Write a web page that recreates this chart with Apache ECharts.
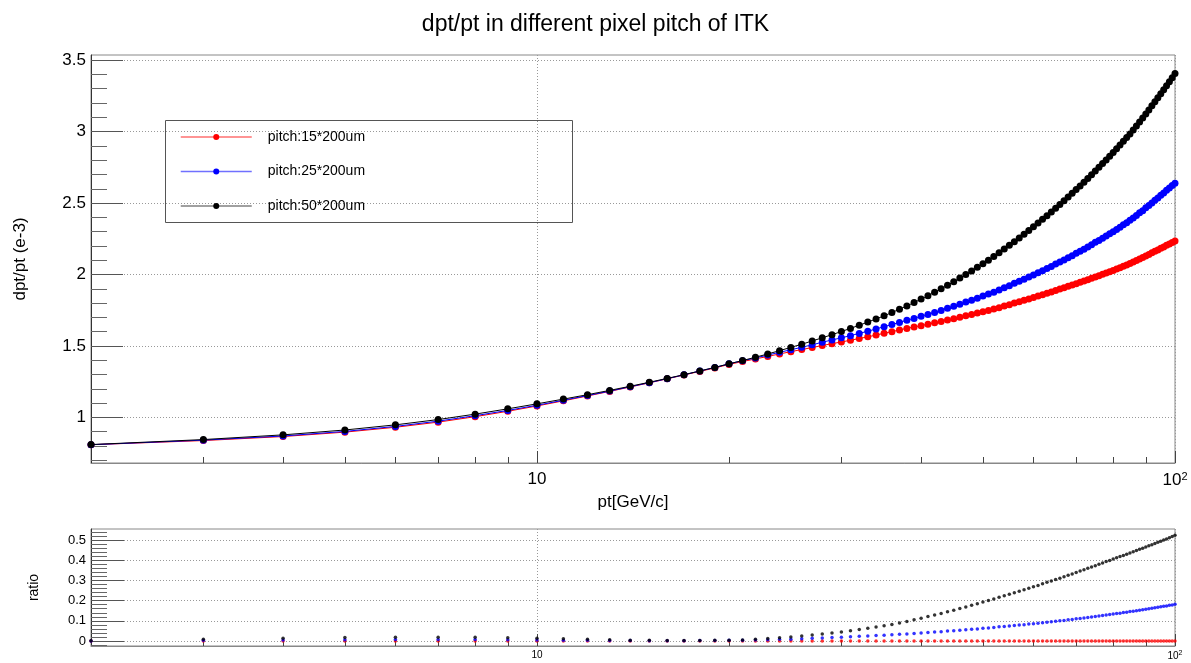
<!DOCTYPE html>
<html>
<head>
<meta charset="utf-8">
<script src="https://cdn.jsdelivr.net/npm/echarts@6/dist/echarts.min.js"></script>
<style>
html,body{margin:0;padding:0;background:#fff;}
#chart{width:1191px;height:663px;}
</style>
</head>
<body>
<div id="chart"></div>
<script>
// ---------- data ----------
const pt = [2,3,4,5,6,7,8,9,10,11,12,13,14,15,16,17,18,19,20,21,22,23,24,25,26,27,28,29,30,
  31,32,33,34,35,36,37,38,39,40,41,42,43,44,45,46,47,48,49,50,51,52,53,54,55,56,57,58,59,60,
  61,62,63,64,65,66,67,68,69,70,71,72,73,74,75,76,77,78,79,80,81,82,83,84,85,86,87,88,89,90,
  91,92,93,94,95,96,97,98,99,100];

const res15 = [0.809,0.838,0.866,0.897,0.931,0.967,1.005,1.043,1.080,1.116,1.150,1.182,1.213,1.242,1.270,1.297,1.322,1.346,1.371,
  1.391,1.409,1.427,1.444,1.460,1.475,1.489,1.503,1.516,1.528,
  1.540,1.552,1.564,1.576,1.589,1.600,1.612,1.623,1.633,1.642,1.652,1.662,1.671,1.681,1.691,1.701,1.711,1.720,1.730,1.739,
  1.749,1.758,1.768,1.779,1.789,1.800,1.809,1.820,1.829,1.839,
  1.850,1.858,1.868,1.878,1.888,1.898,1.907,1.917,1.926,1.936,1.945,1.954,1.963,1.974,1.983,1.991,2.001,2.010,2.020,2.028,
  2.038,2.048,2.058,2.067,2.077,2.087,2.098,2.109,2.119,2.130,
  2.140,2.152,2.162,2.172,2.183,2.193,2.205,2.214,2.224,2.234];

const res25 = [0.809,0.841,0.870,0.902,0.937,0.974,1.012,1.049,1.085,1.120,1.153,1.184,1.215,1.243,1.271,1.298,1.325,1.349,1.375,
  1.397,1.416,1.436,1.456,1.473,1.491,1.508,1.526,1.542,1.557,
  1.572,1.588,1.603,1.619,1.635,1.650,1.665,1.680,1.693,1.708,1.721,1.735,1.748,1.763,1.777,1.791,1.807,1.820,1.834,1.849,
  1.863,1.876,1.892,1.907,1.921,1.939,1.952,1.967,1.983,1.997,
  2.013,2.027,2.042,2.056,2.073,2.088,2.102,2.118,2.132,2.149,2.163,2.177,2.193,2.209,2.225,2.238,2.253,2.269,2.285,2.300,
  2.315,2.331,2.348,2.363,2.380,2.396,2.413,2.432,2.447,2.467,
  2.482,2.501,2.519,2.535,2.554,2.570,2.589,2.606,2.622,2.639];

const res50 = [0.810,0.845,0.878,0.912,0.948,0.985,1.023,1.060,1.095,1.128,1.159,1.189,1.218,1.246,1.273,1.299,1.325,1.350,1.375,
  1.398,1.421,1.444,1.467,1.490,1.512,1.535,1.557,1.579,1.601,
  1.623,1.645,1.667,1.689,1.711,1.734,1.757,1.780,1.804,1.828,1.852,1.876,1.900,1.925,1.950,1.975,2.000,2.025,2.050,2.075,
  2.100,2.126,2.152,2.178,2.204,2.230,2.256,2.282,2.308,2.334,
  2.360,2.386,2.412,2.438,2.464,2.490,2.516,2.542,2.568,2.594,2.620,2.646,2.672,2.698,2.724,2.750,2.776,2.802,2.828,2.854,
  2.880,2.906,2.932,2.958,2.984,3.012,3.040,3.068,3.096,3.124,
  3.152,3.180,3.208,3.236,3.264,3.292,3.320,3.348,3.376,3.406];

const ratio15 = [0,0,0,0,0,0,0,0,0,0,0,0,0,0,0,0,0,0,0,0,0,0,0,0,0,0,0,0,0,
  0,0,0,0,0,0,0,0,0,0,0,0,0,0,0,0,0,0,0,0,0,0,0,0,0,0,0,0,0,0,
  0,0,0,0,0,0,0,0,0,0,0,0,0,0,0,0,0,0,0,0,0,0,0,0,0,0,0,0,0,0,
  0,0,0,0,0,0,0,0,0,0];

const ratio25 = [0.000,0.004,0.005,0.006,0.007,0.007,0.007,0.006,0.005,0.004,0.003,0.002,0.002,0.001,0.001,0.001,0.002,0.002,0.003,
  0.004,0.005,0.006,0.008,0.009,0.011,0.013,0.015,0.017,0.019,
  0.021,0.023,0.025,0.027,0.029,0.031,0.033,0.035,0.037,0.040,0.042,0.044,0.046,0.049,0.051,0.053,0.056,0.058,0.060,0.063,
  0.065,0.067,0.070,0.072,0.074,0.077,0.079,0.081,0.084,0.086,
  0.088,0.091,0.093,0.095,0.098,0.100,0.102,0.105,0.107,0.110,0.112,0.114,0.117,0.119,0.122,0.124,0.126,0.129,0.131,0.134,
  0.136,0.138,0.141,0.143,0.146,0.148,0.150,0.153,0.155,0.158,
  0.160,0.162,0.165,0.167,0.170,0.172,0.174,0.177,0.179,0.182];

const ratio50 = [0.001,0.008,0.014,0.017,0.018,0.019,0.018,0.016,0.014,0.011,0.008,0.006,0.004,0.003,0.002,0.002,0.002,0.003,0.003,
  0.005,0.008,0.012,0.016,0.020,0.025,0.030,0.035,0.040,0.045,
  0.051,0.057,0.063,0.069,0.075,0.082,0.089,0.097,0.105,0.113,0.121,0.129,0.137,0.145,0.153,0.161,0.169,0.177,0.185,0.193,
  0.201,0.209,0.217,0.224,0.232,0.239,0.247,0.254,0.262,0.269,
  0.276,0.284,0.291,0.298,0.305,0.312,0.319,0.326,0.333,0.340,0.347,0.354,0.361,0.367,0.374,0.381,0.387,0.394,0.400,0.407,
  0.413,0.419,0.425,0.431,0.437,0.443,0.449,0.455,0.461,0.467,
  0.473,0.478,0.484,0.490,0.495,0.501,0.506,0.512,0.519,0.525];

const seriesNames = ['pitch:15*200um','pitch:25*200um','pitch:50*200um'];
const seriesColors = ['#ff0000','#0000ff','#000000'];
const legendLineColors = ['#ff7070','#7070ff','#808080'];

// ticks
const xMajorTicks = [10,100];
const xMinorTicks = [3,4,5,6,7,8,9,20,30,40,50,60,70,80,90];
const yMajorTicks = [1,1.5,2,2.5,3,3.5];
const yMinorTicks = [0.7,0.8,0.9,1.1,1.2,1.3,1.4,1.6,1.7,1.8,1.9,2.1,2.2,2.3,2.4,2.6,2.7,2.8,2.9,3.1,3.2,3.3,3.4];
const rMajorTicks = [0,0.1,0.2,0.3,0.4,0.5];
const rMinorTicks = [-0.02,0.02,0.04,0.06,0.08,0.12,0.14,0.16,0.18,0.22,0.24,0.26,0.28,0.32,0.34,0.36,0.38,0.42,0.44,0.46,0.48,0.52,0.54];

// ---------- chart ----------
const FONT = 'Liberation Sans, Arial, Helvetica, sans-serif';
const chart = echarts.init(document.getElementById('chart'), null, {renderer:'canvas'});

function pairs(ys){ return pt.map((x,i)=>[x, ys[i]]); }
const topData = [res15,res25,res50];
const ratioData = [ratio15,ratio25,ratio50];

function xLabelFmt(v){
  if (Math.abs(v-10)<1e-6) return '10';
  if (Math.abs(v-100)<1e-6) return '{b|10}{s|2}';
  return '';
}

function xAxes(grid, fontSize, withName){
  const lab = {
    customValues: xMajorTicks, formatter: xLabelFmt, color:'#000', fontFamily:FONT, fontSize:fontSize,
    margin: fontSize>12?8:4,
    rich:{ b:{fontSize:fontSize, fontFamily:FONT, color:'#000'}, s:{fontSize:Math.round(fontSize*0.65), fontFamily:FONT, color:'#000', verticalAlign:'top', padding:[0,0,fontSize*0.5,0]} }
  };
  const major = {
    type:'log', logBase:10, gridIndex:grid, min:2, max:100, position:'bottom',
    axisLine:{show:true, onZero:false, lineStyle:{color:'#888', width:1}},
    axisTick:{show:true, inside:true, length:12, customValues:xMajorTicks, lineStyle:{color:'#444'}},
    axisLabel: lab,
    splitLine:{show:true, lineStyle:{color:'#999', type:[1,2], width:1}},
    minorTick:{show:false}
  };
  if (withName){
    major.name = 'pt[GeV/c]';
    major.nameLocation = 'middle';
    major.nameGap = 31;
    major.nameTextStyle = {fontFamily:FONT, fontSize:17, color:'#000'};
  }
  const minor = {
    type:'log', logBase:10, gridIndex:grid, min:2, max:100, position:'bottom',
    axisLine:{show:false, onZero:false},
    axisTick:{show:true, inside:true, length:6, customValues:xMinorTicks, lineStyle:{color:'#444'}},
    axisLabel:{show:false},
    splitLine:{show:false}
  };
  return [major, minor];
}

function yAxes(grid, min, max, majors, minors, majLen, fontSize, name, nameGap, nameSize){
  return [{
    type:'value', gridIndex:grid, min:min, max:max, position:'left',
    axisLine:{show:true, onZero:false, lineStyle:{color:'#333'}},
    axisTick:{show:true, inside:true, length:majLen, customValues:majors, lineStyle:{color:'#555'}},
    axisLabel:{customValues:majors, color:'#000', fontFamily:FONT, fontSize:fontSize, margin:5},
    splitLine:{show:true, lineStyle:{color:'#999', type:[1,2], width:1}},
    name:name, nameLocation:'middle', nameGap:nameGap, nameRotate:90,
    nameTextStyle:{fontFamily:FONT, fontSize:nameSize, color:'#000'}
  },{
    type:'value', gridIndex:grid, min:min, max:max, position:'left',
    axisLine:{show:false},
    axisTick:{show:true, inside:true, length:16, customValues:minors, lineStyle:{color:'#666'}},
    axisLabel:{show:false},
    splitLine:{show:false}
  }];
}

const series = [];
for (let k=0;k<3;k++){
  series.push({
    name: seriesNames[k], type:'line', xAxisIndex:0, yAxisIndex:0,
    data: pairs(topData[k]),
    symbol:'circle', symbolSize:7, showSymbol:true,
    lineStyle:{color:seriesColors[k], width:1},
    itemStyle:{color:seriesColors[k]},
    animation:false, z:2+k
  });
}
for (let k=0;k<3;k++){
  series.push({
    name: 'ratio ' + seriesNames[k], type:'scatter', xAxisIndex:2, yAxisIndex:2,
    data: pairs(ratioData[k]),
    symbol:'circle', symbolSize:3.5,
    itemStyle:{color:seriesColors[k]},
    animation:false, z:2+k
  });
}

const option = {
  backgroundColor:'#fff',
  animation:false,
  title:{
    text:'dpt/pt in different pixel pitch of ITK',
    left:'center', top:8,
    textStyle:{fontFamily:FONT, fontSize:23, fontWeight:'normal', color:'#000'}
  },
  grid:[
    {left:91, top:55, width:1084, height:408, show:true, borderColor:'#888', borderWidth:1, backgroundColor:'transparent'},
    {left:91, top:529, width:1084, height:117, show:true, borderColor:'#888', borderWidth:1, backgroundColor:'transparent'}
  ],
  legend:{
    data: seriesNames.map((n,k)=>({
      name:n,
      itemStyle:{color:seriesColors[k]},
      lineStyle:{color:legendLineColors[k], width:1.5}
    })),
    orient:'vertical', left:180, top:130, padding:0,
    itemWidth:71, itemHeight:7.5, itemGap:20.5,
    textStyle:{fontFamily:FONT, fontSize:14, color:'#000', padding:[0,0,0,11]},
    selectedMode:false
  },
  graphic:[{
    type:'rect', shape:{x:165.5, y:120.5, width:407, height:102},
    style:{fill:'none', stroke:'#555', lineWidth:1}, z:-1, silent:true
  }],
  xAxis: [].concat(xAxes(0, 17, true), xAxes(1, 10, false)),
  yAxis: [].concat(
    yAxes(0, 0.681, 3.536, yMajorTicks, yMinorTicks, 32, 17, 'dpt/pt (e-3)', 62, 17),
    yAxes(1, -0.025, 0.556, rMajorTicks, rMinorTicks, 33, 13, 'ratio', 50, 14)
  ),
  series: series
};
chart.setOption(option);
</script>
</body>
</html>
